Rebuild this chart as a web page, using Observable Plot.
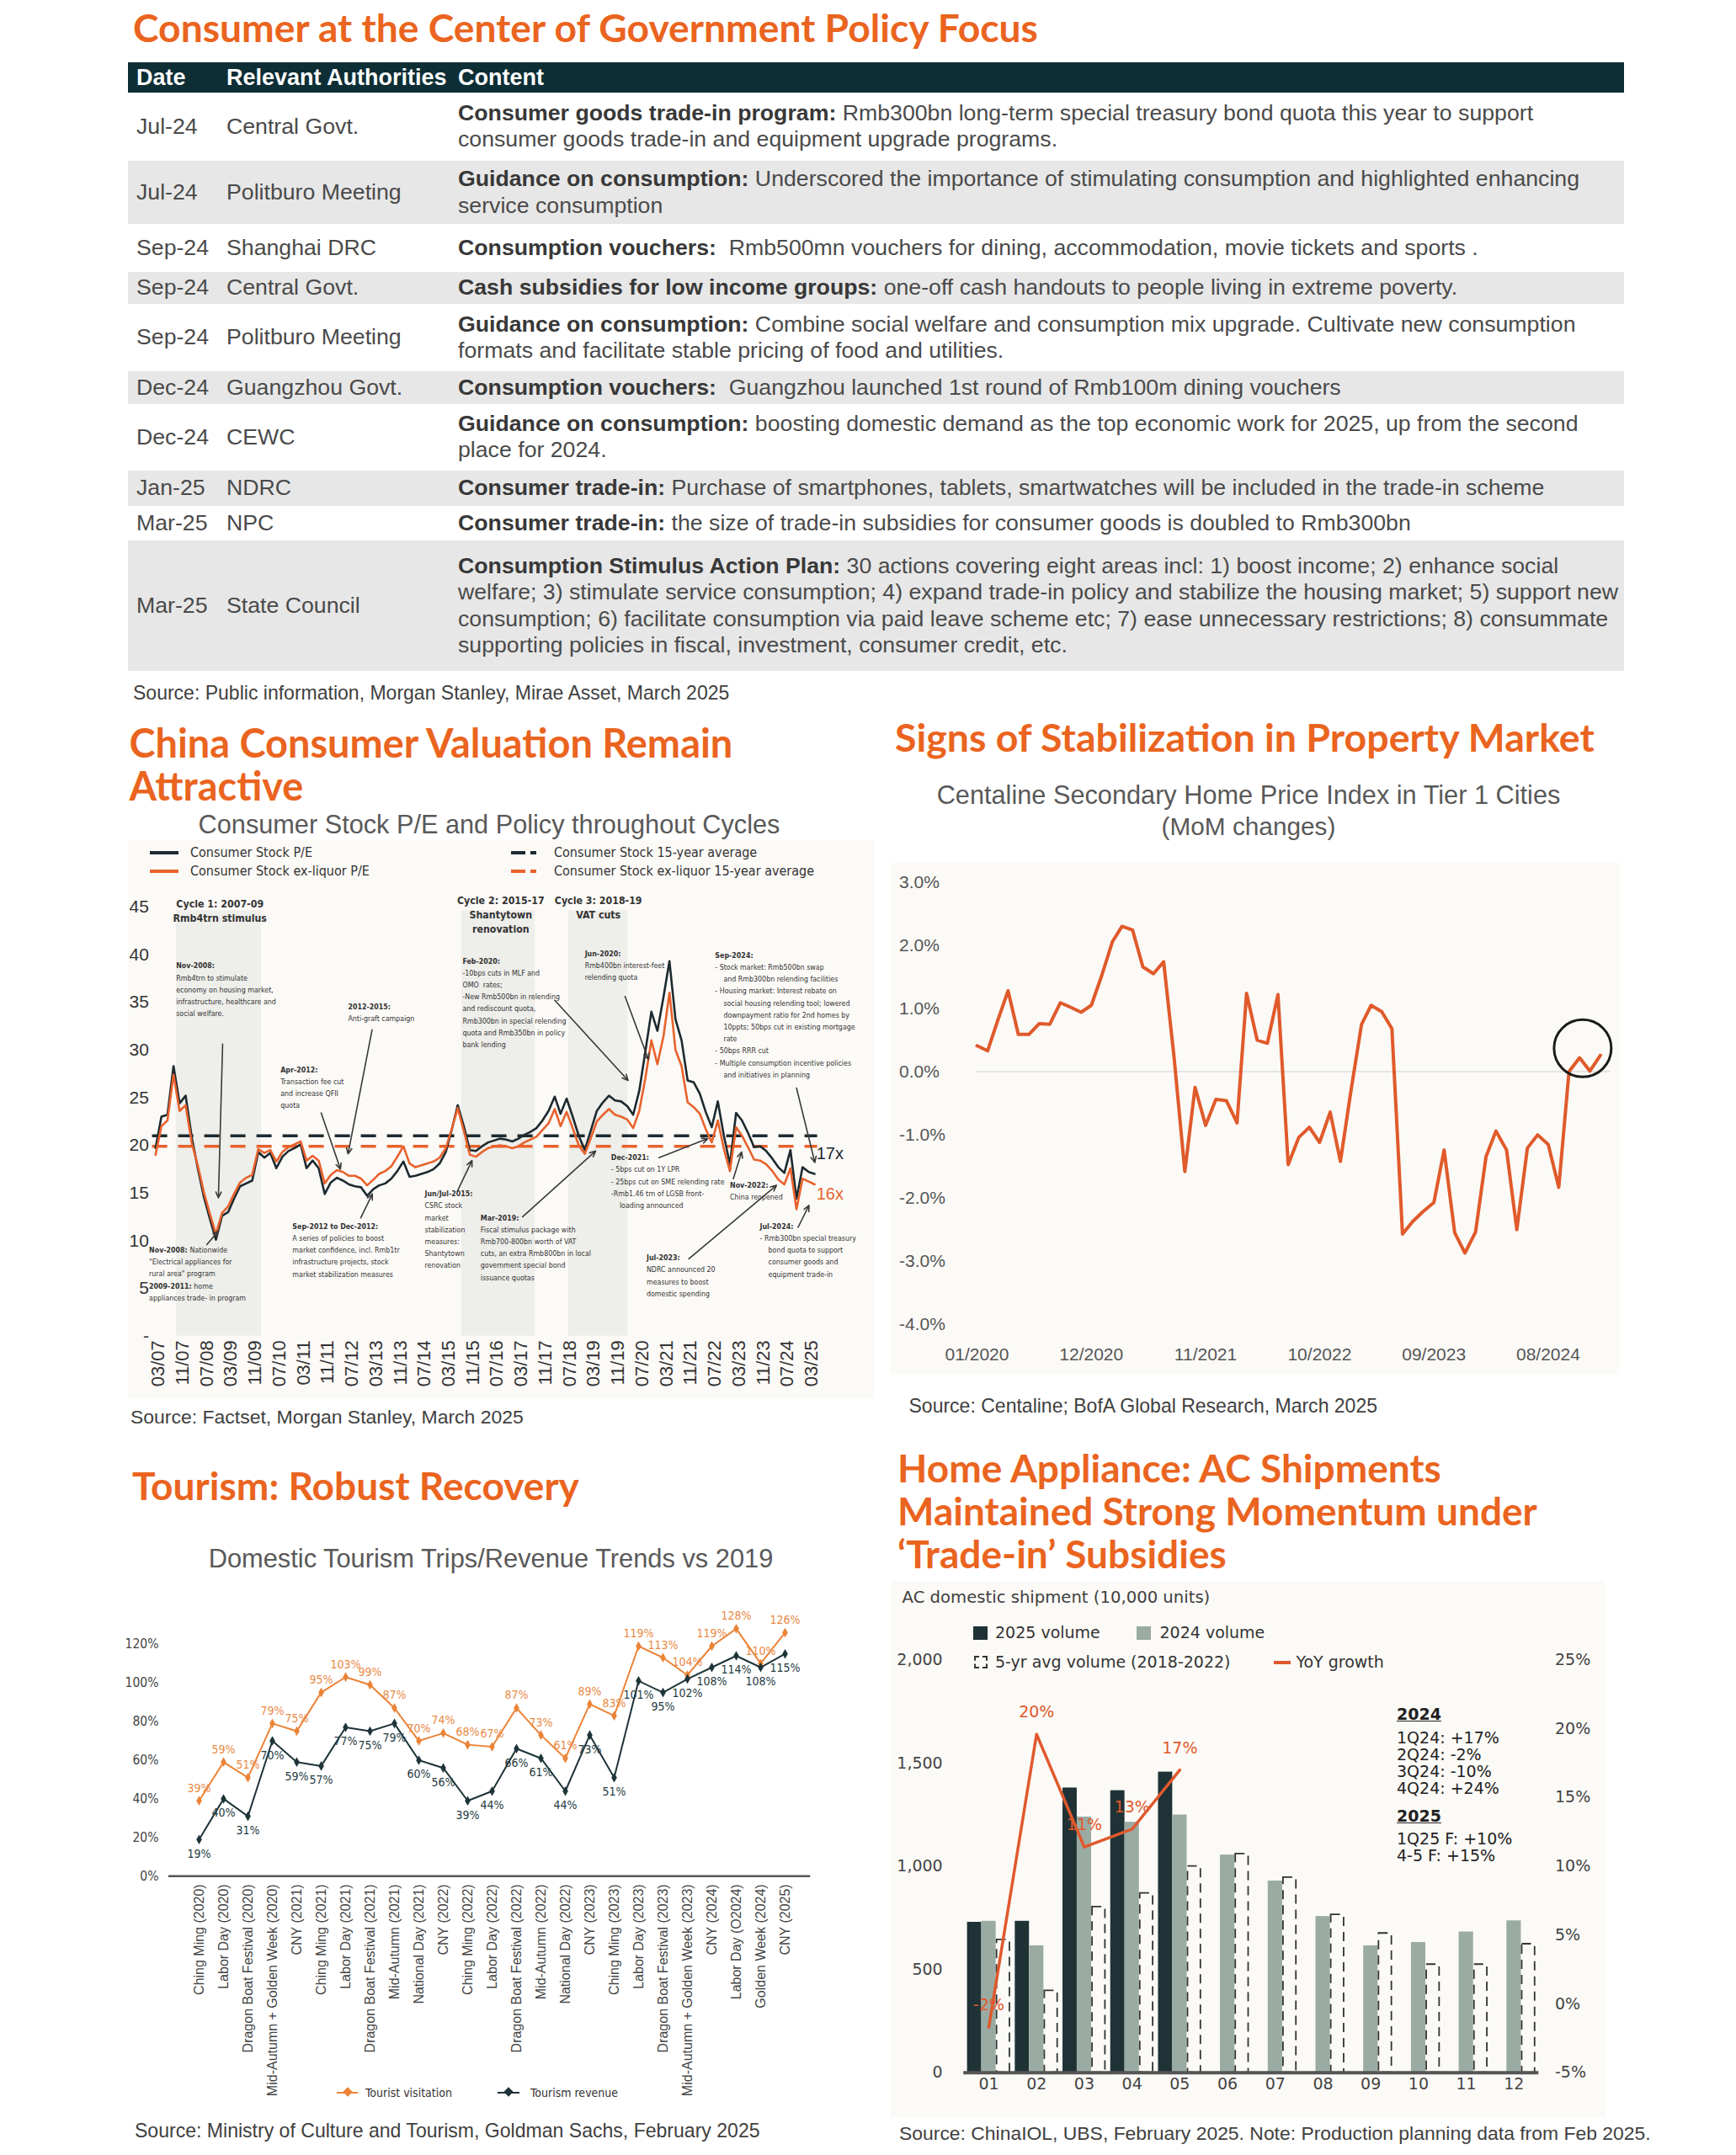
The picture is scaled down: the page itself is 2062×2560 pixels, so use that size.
<!DOCTYPE html>
<html><head><meta charset="utf-8">
<script src="https://cdn.jsdelivr.net/npm/d3@7"></script>
<script src="https://cdn.jsdelivr.net/npm/@observablehq/plot@0.6"></script>
<style>
html,body{margin:0;padding:0;background:#fff;}
#page{position:relative;width:2062px;height:2560px;overflow:hidden;font-family:"Liberation Sans",Arial,sans-serif;color:#404040;}
.abs{position:absolute;white-space:nowrap;}
.title{font-family:"Lato",sans-serif;font-weight:700;color:#EA6420;}
.panel{position:absolute;background:#FCFAF7;}
table.pol{position:absolute;left:152px;top:73.5px;width:1777px;border-collapse:collapse;table-layout:fixed;font-size:26.7px;line-height:31.5px;}
table.pol td,table.pol th{padding:0 0 0 10px;vertical-align:middle;white-space:pre;overflow:visible;text-align:left;}
table.pol th{background:#0E2E36;color:#fff;font-weight:bold;font-size:27px;height:36px;line-height:36px;}
table.pol td{color:#4a4a4a;}
table.pol td b{color:#383838;}
table.pol tr.g td{background:#E7E7E7;}
.chart{position:absolute;}
</style></head>
<body><div id="page"></div>
<script>
// ================= DATA =================
// Policy table
const tblDates = ["Jul-24","Jul-24","Sep-24","Sep-24","Sep-24","Dec-24","Dec-24","Jan-25","Mar-25","Mar-25"];
const tblAuth = ["Central Govt.","Politburo Meeting","Shanghai DRC","Central Govt.","Politburo Meeting","Guangzhou Govt.","CEWC","NDRC","NPC","State Council"];
const tblHeads = ["Consumer goods trade-in program:","Guidance on consumption:","Consumption vouchers:","Cash subsidies for low income groups:","Guidance on consumption:","Consumption vouchers:","Guidance on consumption:","Consumer trade-in:","Consumer trade-in:","Consumption Stimulus Action Plan:"];
const tblBodies = [
 " Rmb300bn long-term special treasury bond quota this year to support\nconsumer goods trade-in and equipment upgrade programs.",
 " Underscored the importance of stimulating consumption and highlighted enhancing\nservice consumption",
 "  Rmb500mn vouchers for dining, accommodation, movie tickets and sports .",
 " one-off cash handouts to people living in extreme poverty.",
 " Combine social welfare and consumption mix upgrade. Cultivate new consumption\nformats and facilitate stable pricing of food and utilities.",
 "  Guangzhou launched 1st round of Rmb100m dining vouchers",
 " boosting domestic demand as the top economic work for 2025, up from the second\nplace for 2024.",
 " Purchase of smartphones, tablets, smartwatches will be included in the trade-in scheme",
 " the size of trade-in subsidies for consumer goods is doubled to Rmb300bn",
 " 30 actions covering eight areas incl: 1) boost income; 2) enhance social\nwelfare; 3) stimulate service consumption; 4) expand trade-in policy and stabilize the housing market; 5) support new\nconsumption; 6) facilitate consumption via paid leave scheme etc; 7) ease unnecessary restrictions; 8) consummate\nsupporting policies in fiscal, investment, consumer credit, etc."
];

// Consumer stock P/E: one value every 2 months starting Feb-2007
const peBlack = [19.7,23.0,23.2,28.3,24.4,25.2,20.8,17.6,14.6,12.3, 10.1,12.6,13.0,14.4,15.7,16.0,16.3,19.3,18.7,19.2, 17.6,18.8,19.4,19.7,20.1,17.6,18.4,17.6,14.9,16.1, 16.6,16.3,15.9,15.7,15.6,14.7,15.4,15.8,16.0,16.5, 17.3,18.3,16.7,16.8,17.0,17.2,17.5,18.1,19.3,21.6, 24.2,22.0,19.5,19.4,19.9,20.3,20.5,20.7,20.6,20.4, 20.7,21.1,21.4,21.8,22.6,23.6,25.1,23.3,24.9,23.0, 21.0,19.5,21.6,23.6,24.5,25.2,24.7,24.6,24.1,23.2, 25.7,29.8,34.0,32.0,35.6,39.3,33.2,31.0,26.8,26.6, 25.4,23.5,21.9,24.6,21.0,18.0,23.4,22.6,21.3,19.8, 19.9,19.4,18.6,17.7,17.1,19.5,14.4,17.7,17.2,17.0];
const peOrange = [19.0,22.0,22.6,27.4,23.6,24.2,20.2,17.9,15.1,12.8, 10.7,12.9,13.6,14.9,16.1,16.6,16.9,19.6,19.2,19.5, 18.3,19.3,19.8,20.1,20.4,18.4,18.9,18.4,16.0,16.9, 17.4,17.2,16.8,16.8,16.5,15.8,16.4,17.0,17.3,17.8, 18.8,19.9,18.1,17.7,17.9,18.1,18.3,18.7,19.7,21.7, 23.9,21.5,19.0,18.8,19.3,19.7,19.9,20.0,19.9,19.7, 19.9,20.3,20.6,20.9,21.6,22.3,23.8,22.0,23.5,21.8, 20.0,19.1,20.8,22.5,23.2,23.8,23.2,23.0,22.7,21.8, 23.6,27.0,31.0,28.5,31.5,36.0,30.0,28.3,24.5,24.0, 23.3,21.7,20.3,22.6,19.6,17.3,21.9,21.0,19.8,18.5, 18.4,18.0,17.3,16.4,15.9,17.6,13.3,16.5,16.2,15.9];
const peAvgBlack = 21.0, peAvgOrange = 19.9;
const peCycles = [
  {m1: 5.85, m2: 34.0, lines: ["Cycle 1: 2007-09", "Rmb4trn stimulus"], mc: 20.3, vt: 46.0},
  {m1: 100.3, m2: 124.6, lines: ["Cycle 2: 2015-17", "Shantytown", "renovation"], mc: 113.2, vt: 46.4},
  {m1: 135.7, m2: 155.2, lines: ["Cycle 3: 2018-19", "VAT cuts"], mc: 145.5, vt: 46.4}
];
const peNotes = [
  {m: 5.85, v: 39.1, lines: ["Nov-2008:", "Rmb4trn to stimulate", "economy on housing market,", "infrastructure, healthcare and", "social welfare."]},
  {m: 62.7, v: 34.8, lines: ["2012-2015:", "Anti-graft campaign"]},
  {m: 40.4, v: 28.2, lines: ["Apr-2012:", "Transaction fee cut", "and increase QFII", "quota"]},
  {m: 44.3, v: 11.8, lines: ["Sep-2012 to Dec-2012:", "A series of policies to boost", "market confidence, incl. Rmb1tr", "infrastructure projects, stock", "market stabilization measures"]},
  {m: -3.1, v: 9.3, lines: [["Nov-2008:", "Nationwide"], "\"Electrical appliances for", "rural area\" program", ["2009-2011:", "home"], "appliances trade- in program"]},
  {m: 88.1, v: 15.2, lines: ["Jun/Jul-2015:", "CSRC stock", "market", "stabilization", "measures:", "Shantytown", "renovation"]},
  {m: 106.5, v: 12.7, lines: ["Mar-2019:", "Fiscal stimulus package with", "Rmb700-800bn worth of VAT", "cuts, an extra Rmb800bn in local", "government special bond", "issuance quotas"]},
  {m: 100.6, v: 39.6, lines: ["Feb-2020:", "-10bps cuts in MLF and", "OMO  rates;", "-New Rmb500bn in relending", "and rediscount quota,", "Rmb300bn in special relending", "quota and Rmb350bn in policy", "bank lending"]},
  {m: 141, v: 40.4, lines: ["Jun-2020:", "Rmb400bn interest-feet", "relending quota"]},
  {m: 184.1, v: 40.2, lines: ["Sep-2024:", "- Stock market: Rmb500bn swap", "  and Rmb300bn relending facilities", "- Housing market: Interest rebate on", "  social housing relending tool; lowered", "  downpayment ratio for 2nd homes by", "  10ppts; 50bps cut in existing mortgage", "  rate", "- 50bps RRR cut", "- Multiple consumption incentive policies", "  and initiatives in planning"]},
  {m: 149.7, v: 19.0, lines: ["Dec-2021:", "- 5bps cut on 1Y LPR", "- 25bps cut on SME relending rate", "-Rmb1.46 trn of LGSB front-", "  loading announced"]},
  {m: 189, v: 16.1, lines: ["Nov-2022:", "China reopened"]},
  {m: 161.4, v: 8.5, lines: ["Jul-2023:", "NDRC announced 20", "measures to boost", "domestic spending"]},
  {m: 198.9, v: 11.8, lines: ["Jul-2024:", "- Rmb300bn special treasury", "  bond quota to support", "  consumer goods and", "  equipment trade-in"]}
];
const peArrows = [
  {m1: 21.2, v1: 30.6, m2: 19.8, v2: 14.5},
  {m1: 70.6, v1: 32.1, m2: 62.7, v2: 19.1},
  {m1: 53.8, v1: 23.4, m2: 60.2, v2: 17.5},
  {m1: 66.9, v1: 12.4, m2: 70.7, v2: 14.9},
  {m1: 16.0, v1: 9.6, m2: 19.8, v2: 11.0},
  {m1: 98.9, v1: 15.2, m2: 103.7, v2: 18.4},
  {m1: 120.4, v1: 12.5, m2: 144.6, v2: 19.4},
  {m1: 131.0, v1: 35.2, m2: 155.3, v2: 26.8},
  {m1: 154.3, v1: 35.6, m2: 162.0, v2: 29.0},
  {m1: 211.0, v1: 26.0, m2: 217.1, v2: 18.2},
  {m1: 165.5, v1: 18.7, m2: 181.7, v2: 20.7},
  {m1: 190.1, v1: 16.5, m2: 192.9, v2: 19.3},
  {m1: 175.4, v1: 8.1, m2: 204.4, v2: 15.8},
  {m1: 211.5, v1: 11.4, m2: 215.1, v2: 13.7}
];
const peEndLabels = [{m: 217.6, v: 19.1, t: "17x"}, {m: 217.6, v: 14.9, t: "16x"}];

// Centaline secondary home price index, MoM %, monthly from Jan-2020
const propMoM = [0.41,0.33,0.80,1.28,0.59,0.59,0.76,0.75,1.09,1.02, 0.94,1.05,1.53,2.06,2.30,2.24,1.66,1.55,1.74,0.20, -1.58,-0.25,-0.85,-0.44,-0.46,-0.81,1.24,0.50,0.45,1.22, -1.47,-1.04,-0.88,-1.12,-0.64,-1.42,-0.30,0.75,1.05,0.95, 0.68,-2.57,-2.37,-2.21,-2.07,-1.24,-2.55,-2.87,-2.54,-1.34, -0.94,-1.24,-2.50,-1.21,-1.00,-1.15,-1.83,0.00,0.22,0.01, 0.26];
const propTicks = ["2020-01","2020-12","2021-11","2022-10","2023-09","2024-08"];
const propCircle = {date: "2024-11-10", v: 0.37};

// Tourism vs 2019
const tourEvents = ["Ching Ming (2020)","Labor Day (2020)","Dragon Boat Festival (2020)","Mid-Autumn + Golden Week (2020)","CNY (2021)","Ching Ming (2021)","Labor Day (2021)","Dragon Boat Festival (2021)","Mid-Autumn (2021)","National Day (2021)","CNY (2022)","Ching Ming (2022)","Labor Day (2022)","Dragon Boat Festival (2022)","Mid-Autumn (2022)","National Day (2022)","CNY (2023)","Ching Ming (2023)","Labor Day (2023)","Dragon Boat Festival (2023)","Mid-Autumn + Golden Week (2023)","CNY (2024)","Labor Day (O2024)","Golden Week (2024)","CNY (2025)"];
const tourVisits = [39,59,51,79,75,95,103,99,87,70,74,68,67,87,73,61,89,83,119,113,104,119,128,110,126];
const tourRevenue = [19,40,31,70,59,57,77,75,79,60,56,39,44,66,61,44,73,51,101,95,102,108,114,108,115];

// AC domestic shipment (10,000 units)
const acMonths = [1,2,3,4,5,6,7,8,9,10,11,12];
const ac2025 = [729,734,1380,1367,1457];
const ac2024 = [734,615,1239,1214,1249,1055,929,757,615,631,682,736];
const acAvg = [644,397,803,869,1000,1060,946,765,675,524,524,623];
const acYoY = [-1.7,19.6,11.4,12.7,17.0];

// ================= HELPERS =================
const page = document.getElementById("page");
const NARROW = '"DejaVu Sans Condensed","Liberation Sans Narrow",sans-serif';
const SANS = '"Liberation Sans",Arial,sans-serif';
const WIDE = '"DejaVu Sans",Verdana,sans-serif';
const cctx = document.createElement("canvas").getContext("2d");
function tw(s, font) { cctx.font = font; return cctx.measureText(s).width; }

function txt(s, o) {
  const d = document.createElement("div");
  d.className = "abs " + (o.cls || "");
  d.textContent = s;
  d.style.fontSize = o.fs + "px";
  d.style.lineHeight = "1";
  if (o.family) d.style.fontFamily = o.family;
  if (o.weight) d.style.fontWeight = o.weight;
  if (o.color) d.style.color = o.color;
  if (o.deco) d.style.textDecoration = o.deco;
  page.appendChild(d);
  let w = d.getBoundingClientRect().width;
  if (o.fitW && o.fit === "size") { o.fs = o.fs * o.fitW / w; d.style.fontSize = o.fs + "px"; w = d.getBoundingClientRect().width; }
  if (o.fitW && o.fit === "spacing") { d.style.letterSpacing = ((o.fitW - w) / s.length) + "px"; w = o.fitW; }
  const k = o.k ?? 0.49;
  d.style.top = (o.cy - k * o.fs) + "px";
  d.style.left = (o.anchor === "middle" ? o.x - w / 2 : o.x) + "px";
  return d;
}
function box(x, y, w, h, css) {
  const d = document.createElement("div");
  d.style.position = "absolute";
  d.style.left = x + "px"; d.style.top = y + "px"; d.style.width = w + "px"; d.style.height = h + "px";
  Object.assign(d.style, css || {});
  page.appendChild(d);
  return d;
}
function panel(x, y, w, h) { const d = box(x, y, w, h); d.className = "panel"; return d; }
function mount(svg, x, y) { const d = document.createElement("div"); d.className = "chart"; d.style.left = x + "px"; d.style.top = y + "px"; d.appendChild(svg); page.appendChild(d); }
// months after Mar-2007 -> date (fractional months allowed)
function md(m) { const f = Math.floor(m); const a = Date.UTC(2007, 2 + f, 1), b = Date.UTC(2007, 3 + f, 1); return new Date(a + (m - f) * (b - a)); }
const nb = s => s.replace(/^ +/, sp => "\u00a0".repeat(sp.length * 2));

// ================= TITLES / TEXT =================
const TK = 0.53;
txt("Consumer at the Center of Government Policy Focus", {cls: "title", x: 158, cy: 33, fs: 40, fit: "size", fitW: 1075, k: TK});
const peT = txt("China Consumer Valuation Remain", {cls: "title", x: 153.5, cy: 883.5, fs: 41, fit: "size", fitW: 717, k: TK});
const peFs = parseFloat(peT.style.fontSize);
txt("Attractive", {cls: "title", x: 153.5, cy: 935, fs: peFs, k: TK});
txt("Signs of Stabilization in Property Market", {cls: "title", x: 1063, cy: 877, fs: 41, fit: "size", fitW: 831, k: TK});
txt("Tourism: Robust Recovery", {cls: "title", x: 157, cy: 1765, fs: 41, fit: "size", fitW: 531, k: TK});
const acT = txt("Maintained Strong Momentum under", {cls: "title", x: 1066, cy: 1796.3, fs: 41, fit: "size", fitW: 760, k: TK});
const acFs = parseFloat(acT.style.fontSize);
txt("Home Appliance: AC Shipments", {cls: "title", x: 1066, cy: 1745.2, fs: acFs, k: TK});
txt("\u2018Trade-in\u2019 Subsidies", {cls: "title", x: 1066, cy: 1847.4, fs: acFs, k: TK});

txt("Consumer Stock P/E and Policy throughout Cycles", {x: 581, cy: 980, fs: 29, color: "#595959", anchor: "middle", fit: "size", fitW: 691});
txt("Centaline Secondary Home Price Index in Tier 1 Cities", {x: 1483, cy: 945.5, fs: 28, color: "#595959", anchor: "middle", fit: "size", fitW: 741});
txt("(MoM changes)", {x: 1483, cy: 981.5, fs: 28, color: "#595959", anchor: "middle", fit: "size", fitW: 207});
txt("Domestic Tourism Trips/Revenue Trends vs 2019", {x: 583, cy: 1852, fs: 28, color: "#595959", anchor: "middle", fit: "size", fitW: 671});

txt("Source: Public information, Morgan Stanley, Mirae Asset, March 2025", {x: 158, cy: 823, fs: 21, fit: "size", fitW: 709});
txt("Source: Factset, Morgan Stanley, March 2025", {x: 155, cy: 1683.6, fs: 21, fit: "size", fitW: 467});
txt("Source: Centaline; BofA Global Research, March 2025", {x: 1079.5, cy: 1670.5, fs: 21, fit: "size", fitW: 557});
txt("Source: Ministry of Culture and Tourism, Goldman Sachs, February 2025", {x: 160, cy: 2531, fs: 21, fit: "size", fitW: 743});
txt("Source: ChinaIOL, UBS, February 2025. Note: Production planning data from Feb 2025.", {x: 1068, cy: 2534.5, fs: 21, fit: "size", fitW: 893});

// ================= TABLE =================
(function () {
  const rowH = [81.6, 75, 57, 38, 80, 39, 78.5, 42.5, 41, 155];
  const t = document.createElement("table");
  t.className = "pol";
  let h = '<colgroup><col style="width:107px"><col style="width:275px"><col style="width:1395px"></colgroup>';
  h += "<tr><th>Date</th><th>Relevant Authorities</th><th>Content</th></tr>";
  tblDates.forEach((d, i) => {
    const lines = tblBodies[i].split("\n");
    let c = `<div><b>${tblHeads[i]}</b><span>${lines[0]}</span></div>`;
    lines.slice(1).forEach(l => { c += `<div>${l}</div>`; });
    h += `<tr class="${i % 2 ? "g" : ""}" style="height:${rowH[i]}px"><td>${d}</td><td>${tblAuth[i]}</td><td>${c}</td></tr>`;
  });
  t.innerHTML = h;
  page.appendChild(t);
})();

// ================= P/E CHART =================
panel(152, 998, 887, 663);
(function () {
  const peRows = peBlack.map((b, i) => ({date: md(-1 + 2 * i), black: b, orange: peOrange[i]}));
  const BLK = "#1D2A30", ORG = "#E8622C";
  const NFS = 8.8, NLH = 14.2;
  const marks = [
    Plot.rect(peCycles, {x1: d => md(d.m1), x2: d => md(d.m2), y1: 0, y2: 44.6, fill: "#EEEEEA"}),
    Plot.ruleY([peAvgBlack], {stroke: BLK, strokeWidth: 3.5, strokeDasharray: "18,13"}),
    Plot.ruleY([peAvgOrange], {stroke: ORG, strokeWidth: 3.5, strokeDasharray: "18,13"}),
    Plot.line(peRows, {x: "date", y: "black", stroke: BLK, strokeWidth: 2.6}),
    Plot.line(peRows, {x: "date", y: "orange", stroke: ORG, strokeWidth: 2.6}),
    Plot.text(peCycles, {x: d => md(d.mc), y: "vt", text: d => d.lines.join("\n"), textAnchor: "middle", lineAnchor: "top", lineHeight: 1.4, fontSize: 12.3, fontWeight: "bold", fontFamily: NARROW, fill: "#333"}),
    Plot.arrow(peArrows, {x1: d => md(d.m1), y1: "v1", x2: d => md(d.m2), y2: "v2", stroke: "#3a3a3a", strokeWidth: 1.6, headLength: 7, headAngle: 50}),
    Plot.text([peEndLabels[0]], {x: d => md(d.m), y: "v", text: "t", textAnchor: "start", fontSize: 20, fill: BLK, fontFamily: SANS}),
    Plot.text([peEndLabels[1]], {x: d => md(d.m), y: "v", text: "t", textAnchor: "start", fontSize: 20, fill: ORG, fontFamily: SANS}),
    Plot.axisY({ticks: d3.range(0, 46, 5), tickFormat: d => d === 0 ? "-" : String(d), tickSize: 0, tickPadding: 4.2, fontSize: 21, label: null}),
    Plot.axisX({ticks: d3.range(0, 217, 8).map(md), tickFormat: d3.utcFormat("%m/%y"), tickRotate: -90, tickSize: 0, tickPadding: 5, fontSize: 22, label: null})
  ];
  peNotes.forEach(n => n.lines.forEach((ln, k) => {
    const parts = Array.isArray(ln) ? ln : [ln];
    let dx = 0;
    parts.forEach((p, j) => {
      const bold = Array.isArray(ln) ? j === 0 : k === 0;
      const s = nb(p);
      marks.push(Plot.text([n], {x: d => md(d.m), y: "v", text: () => s, dx, dy: k * NLH, textAnchor: "start", lineAnchor: "top", fontSize: NFS, fontFamily: NARROW, fontWeight: bold ? "bold" : "normal", fill: "#333"}));
      dx += tw(p + " ", `${bold ? "bold " : ""}${NFS}px ${NARROW}`);
    });
  }));
  const svg = Plot.plot({
    width: 887, height: 663, marginLeft: 28.6, marginRight: 68.4, marginTop: 78.7, marginBottom: 74.3,
    style: {background: "transparent", overflow: "visible", fontFamily: SANS, color: "#333"},
    x: {type: "utc", domain: [md(-2), md(218)]},
    y: {domain: [0, 45]},
    marks
  });
  mount(svg, 152, 998);
  // legend
  box(178, 1011, 34, 4, {background: BLK});
  box(178, 1033, 34, 4, {background: ORG});
  box(607, 1011, 17, 4, {background: BLK}); box(630, 1011, 7, 4, {background: BLK});
  box(607, 1033, 17, 4, {background: ORG}); box(630, 1033, 7, 4, {background: ORG});
  txt("Consumer Stock P/E", {x: 226, cy: 1013, fs: 16, family: NARROW, color: "#333"});
  txt("Consumer Stock ex-liquor P/E", {x: 226, cy: 1035, fs: 16, family: NARROW, color: "#333"});
  txt("Consumer Stock 15-year average", {x: 658, cy: 1013, fs: 16, family: NARROW, color: "#333"});
  txt("Consumer Stock ex-liquor 15-year average", {x: 658, cy: 1035, fs: 16, family: NARROW, color: "#333"});
})();

// ================= PROPERTY CHART =================
panel(1058, 1025, 866, 608);
(function () {
  const rows = propMoM.map((v, i) => ({date: new Date(Date.UTC(2020, i, 1)), v}));
  const svg = Plot.plot({
    width: 866, height: 608, marginLeft: 102, marginRight: 11, marginTop: 22.4, marginBottom: 60.2,
    style: {background: "transparent", overflow: "visible", fontFamily: SANS, color: "#555"},
    x: {type: "utc", domain: [new Date(Date.UTC(2020, 0, 1)), new Date(Date.UTC(2025, 1, 1))]},
    y: {domain: [-4, 3]},
    marks: [
      Plot.ruleY([0], {stroke: "#DCDCDC", strokeWidth: 1.5}),
      Plot.line(rows, {x: "date", y: "v", stroke: "#E05A2B", strokeWidth: 4}),
      Plot.dot([propCircle], {x: d => new Date(d.date), y: "v", r: 34, stroke: "#1b1b1b", strokeWidth: 3, fill: "none"}),
      Plot.axisY({ticks: d3.range(-4, 3.5, 1), tickFormat: d => d.toFixed(1) + "%", textAnchor: "start", tickSize: 0, tickPadding: 92.5, fontSize: 21, label: null}),
      Plot.axisX({ticks: propTicks.map(s => new Date(s + "-01T00:00:00Z")), tickFormat: d3.utcFormat("%m/%Y"), tickSize: 0, tickPadding: 27.7, fontSize: 21, label: null})
    ]
  });
  mount(svg, 1058, 1025);
})();

// ================= TOURISM CHART =================
(function () {
  const ORG = "#EB8337", DRK = "#1E3439";
  const rows = tourEvents.map((e, i) => ({e, visits: tourVisits[i], revenue: tourRevenue[i]}));
  const svg = Plot.plot({
    width: 840, height: 600, marginLeft: 54.9, marginRight: 22.7, marginTop: 52.7, marginBottom: 271.7,
    style: {background: "transparent", overflow: "visible", fontFamily: SANS, color: "#444"},
    x: {type: "point", domain: tourEvents, insetLeft: 15.3, insetRight: 9.9},
    y: {domain: [0, 120]},
    marks: [
      Plot.ruleY([0], {stroke: "#555", strokeWidth: 2.5}),
      Plot.line(rows, {x: "e", y: "visits", stroke: ORG, strokeWidth: 2}),
      Plot.line(rows, {x: "e", y: "revenue", stroke: DRK, strokeWidth: 2}),
      Plot.dot(rows, {x: "e", y: "visits", symbol: "diamond", r: 3.5, fill: ORG}),
      Plot.dot(rows, {x: "e", y: "revenue", symbol: "diamond", r: 3.5, fill: DRK}),
      Plot.text(rows, {x: "e", y: "visits", text: d => d.visits + "%", dy: -15, fill: "#E98A46", fontSize: 14, fontFamily: NARROW}),
      Plot.text(rows, {x: "e", y: "revenue", text: d => d.revenue + "%", dy: 17, fill: "#1F3B41", fontSize: 14, fontFamily: NARROW}),
      Plot.axisY({ticks: d3.range(0, 121, 20), tickFormat: d => d + "%", tickSize: 0, tickPadding: 12, fontSize: 15.5, fontFamily: NARROW, label: null}),
      Plot.axisX({tickRotate: -90, tickSize: 0, tickPadding: 9.5, fontSize: 16, label: null})
    ]
  });
  mount(svg, 145, 1900);
  box(400, 2484.5, 25, 2, {background: ORG});
  box(408.5, 2481, 8, 8, {background: ORG, transform: "rotate(45deg)"});
  box(591, 2484.5, 26, 2, {background: DRK});
  box(600, 2481, 8, 8, {background: DRK, transform: "rotate(45deg)"});
  txt("Tourist visitation", {x: 434, cy: 2485.5, fs: 14, family: NARROW, color: "#333"});
  txt("Tourism revenue", {x: 630, cy: 2485.5, fs: 14, family: NARROW, color: "#333"});
})();

// ================= AC CHART =================
panel(1058, 1878, 849, 637);
(function () {
  const DRK = "#1F3236", GRY = "#9AABA3", ORG = "#E0592C";
  const rows = acMonths.map((m, i) => ({m, v25: ac2025[i], v24: ac2024[i], avg: acAvg[i]}));
  const yoy = acYoY.map((p, i) => ({m: acMonths[i], p}));
  const toV = p => (p + 5) / 30 * 2000, toP = v => v / 2000 * 30 - 5;
  const svg = Plot.plot({
    width: 849, height: 637, marginLeft: 86.2, marginRight: 79.7, marginTop: 93.5, marginBottom: 53.3,
    style: {background: "transparent", overflow: "visible", fontFamily: WIDE, color: "#444"},
    x: {type: "linear", domain: [0.474, 12.52]},
    y: {domain: [0, 2000]},
    marks: [
      Plot.rect(rows.filter(d => d.v25 != null), {x1: d => d.m - 0.448, x2: d => d.m - 0.15, y1: 0, y2: "v25", fill: DRK}),
      Plot.rect(rows, {x1: d => d.m - 0.15, x2: d => d.m + 0.152, y1: 0, y2: "v24", fill: GRY}),
      Plot.rect(rows, {x1: d => d.m + 0.17, x2: d => d.m + 0.44, y1: 0, y2: "avg", fill: "none", stroke: "#333", strokeWidth: 1.8, strokeDasharray: "11,7"}),
      Plot.ruleY([0], {stroke: "#555", strokeWidth: 4}),
      Plot.line(yoy, {x: "m", y: d => toV(d.p), stroke: ORG, strokeWidth: 3.5}),
      Plot.text(yoy, {x: "m", y: d => toV(d.p), text: d => Math.round(d.p) + "%", dy: -26, fill: ORG, fontSize: 19}),
      Plot.axisY({ticks: [0, 500, 1000, 1500, 2000], tickFormat: d3.format(","), tickSize: 0, tickPadding: 25, fontSize: 19, label: null}),
      Plot.axisY({anchor: "right", ticks: [-5, 0, 5, 10, 15, 20, 25].map(toV), tickFormat: v => Math.round(toP(v)) + "%", tickSize: 0, tickPadding: 19.2, fontSize: 19, textAnchor: "start", label: null}),
      Plot.axisX({ticks: acMonths, tickFormat: d => String(d).padStart(2, "0"), tickSize: 0, tickPadding: 6.6, fontSize: 19, label: null})
    ]
  });
  mount(svg, 1058, 1878);
  txt("AC domestic shipment (10,000 units)", {x: 1071.6, cy: 1897.2, fs: 18, family: WIDE, color: "#404040", fit: "size", fitW: 366});
  box(1156, 1931.5, 17, 16, {background: DRK});
  txt("2025 volume", {x: 1182, cy: 1939.4, fs: 19, family: WIDE, color: "#333"});
  box(1350, 1931.5, 17, 16, {background: GRY});
  txt("2024 volume", {x: 1377.5, cy: 1939.4, fs: 19, family: WIDE, color: "#333"});
  box(1157, 1967, 16, 15, {border: "2px dashed #333", boxSizing: "border-box"});
  txt("5-yr avg volume (2018-2022)", {x: 1182, cy: 1974.7, fs: 19, family: WIDE, color: "#333"});
  box(1512.7, 1973, 20, 3.5, {background: ORG});
  txt("YoY growth", {x: 1539.4, cy: 1974.7, fs: 19, family: WIDE, color: "#333"});
  const boxLines = [["2024", 2036, true], ["1Q24: +17%", 2064], ["2Q24: -2%", 2083.8], ["3Q24: -10%", 2103.6], ["4Q24: +24%", 2123.4], ["2025", 2157, true], ["1Q25 F: +10%", 2183.7], ["4-5 F: +15%", 2203.6]];
  boxLines.forEach(([s, cy, b]) => txt(s, {x: 1659, cy, fs: 19, family: WIDE, weight: b ? "bold" : null, deco: b ? "underline" : null, color: "#222", k: 0.45}));
})();
</script>
</body></html>
